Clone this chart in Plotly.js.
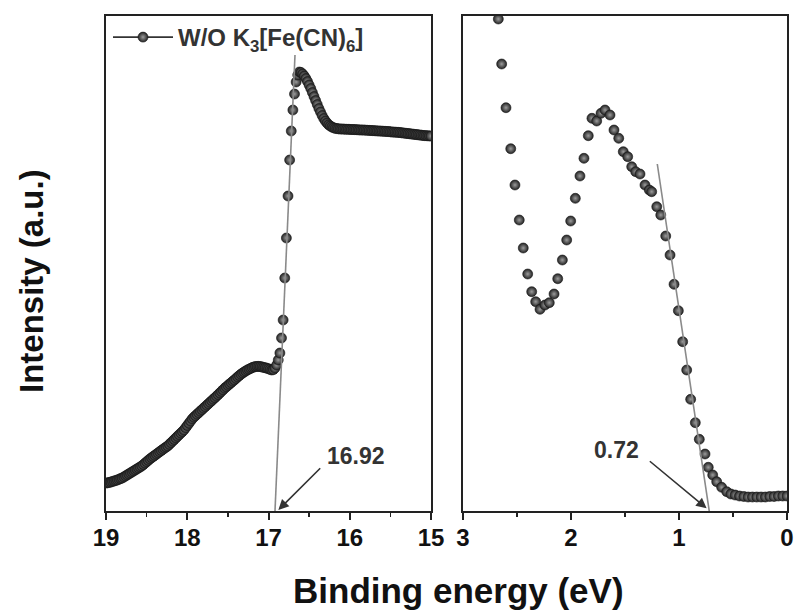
<!DOCTYPE html>
<html><head><meta charset="utf-8">
<script src="https://cdn.plot.ly/plotly-3.0.1.min.js"></script>
<style>html,body{margin:0;padding:0;background:#fff}#chart{width:795px;height:614px}</style>
</head><body><div id="chart"></div>
<script>
// Left panel: secondary-electron cutoff region (binding energy, eV)
const leftEnergy = [
19.00,18.98,18.96,18.94,18.92,18.90,18.88,18.86,18.84,18.82,18.80,18.78,18.76,18.74,18.72,18.70,18.68,18.66,18.64,18.62,
18.60,18.58,18.56,18.54,18.52,18.50,18.48,18.46,18.44,18.42,18.40,18.38,18.36,18.34,18.32,18.30,18.28,18.26,18.24,18.22,
18.20,18.18,18.16,18.14,18.12,18.10,18.08,18.06,18.04,18.02,18.00,17.98,17.96,17.94,17.92,17.90,17.88,17.86,17.84,17.82,
17.80,17.78,17.76,17.74,17.72,17.70,17.68,17.66,17.64,17.62,17.60,17.58,17.56,17.54,17.52,17.50,17.48,17.46,17.44,17.42,
17.40,17.38,17.36,17.34,17.32,17.30,17.28,17.26,17.24,17.22,17.20,17.18,17.16,17.14,17.12,17.10,17.08,17.06,17.04,17.02,
17.00,16.98,16.96,16.94,16.92,16.90,16.88,16.86,16.84,16.82,16.80,16.78,16.76,16.74,16.72,16.70,16.68,16.66,16.64,16.62,
16.60,16.58,16.56,16.54,16.52,16.50,16.48,16.46,16.44,16.42,16.40,16.38,16.36,16.34,16.32,16.30,16.28,16.26,16.24,16.22,
16.20,16.18,16.16,16.14,16.12,16.10,16.08,16.06,16.04,16.02,16.00,15.98,15.96,15.94,15.92,15.90,15.88,15.86,15.84,15.82,
15.80,15.78,15.76,15.74,15.72,15.70,15.68,15.66,15.64,15.62,15.60,15.58,15.56,15.54,15.52,15.50,15.48,15.46,15.44,15.42,
15.40,15.38,15.36,15.34,15.32,15.30,15.28,15.26,15.24,15.22,15.20,15.18,15.16,15.14,15.12,15.10,15.08,15.06,15.04,15.02,
15.00];
const leftIntensity = [
28,28.2,28.5,29,29.5,30,30.5,31,31.7,32.4,33,34,35,36,37,38,39,40,41,42,
43,44,45,46.4,47.8,49.2,50.6,52,53.2,54.4,55.6,56.8,58,59.2,60.4,61.6,62.8,63.9,65,66.6,
68.2,69.8,71.4,73,74.6,76.2,77.8,79.4,81,83.2,85.4,87.6,89.8,92,93.7,95.2,96.7,98.2,99.7,101.2,
102.7,104.2,105.7,107.2,108.7,110.2,111.7,113.2,114.7,116.3,117.9,119.5,121.1,122.7,124.1,125.5,126.9,128.3,129.7,131,
132.5,134,135.4,136.7,137.9,139,140,141,141.8,142.6,143.4,144,144.4,144.6,144.6,144.4,144,143.6,143.2,142.8,
142.2,141.6,141,141.4,143,146,151,158,173,191,233,273,315,351,380,401,417,429,436,439,
438.5,437,435,432.5,429.5,426,422.5,418.5,414.5,410.5,406.5,402.5,399,395.5,392.5,390,388,386.2,385,384,
383.2,382.7,382.4,382.2,382,382,381.9,381.8,381.7,381.7,381.6,381.5,381.4,381.4,381.3,381.2,381.1,381,381,380.9,
380.8,380.7,380.6,380.5,380.4,380.3,380.2,380.1,380,379.9,379.8,379.7,379.6,379.5,379.4,379.2,379,378.9,378.8,378.7,
378.6,378.4,378.2,378,377.8,377.6,377.4,377.2,377,376.8,376.6,376.4,376.2,376,375.8,375.6,375.4,375.3,375.2,375.1,
375];

// Right panel: valence band region (binding energy, eV)
const rightEnergy = [
2.673,2.642,2.602,2.558,2.519,2.479,2.442,2.401,2.364,2.327,2.287,2.241,2.201,2.157,2.123,2.080,2.040,2.003,1.960,1.917,
1.880,1.840,1.806,1.762,1.722,1.685,1.639,1.602,1.558,1.516,1.475,1.438,1.401,1.361,1.315,1.275,1.253,1.206,1.169,1.123,
1.083,1.046,1.006,0.966,0.929,0.892,0.849,0.812,0.759,0.729,0.688,0.651,0.605,0.558,0.52,0.48,0.44,0.40,0.36,0.32,
0.28,0.24,0.20,0.16,0.12,0.08,0.04,0.00];
const rightIntensity = [
492,447,403.3,362.3,326,291,263,237,219.3,209.3,201.7,206,208.3,217,232.3,251,271,290,312.7,335,
352.7,375.3,392.7,390,397.7,401,396,381,372.7,359.3,354.3,344.3,339.3,337,326,321,319.3,304.3,296,275,
256,226.7,200.3,169.3,141,111.7,88.3,71.7,57,43.7,36,29.3,23.7,19.3,17,16,15,14.5,14,14,
14,14,14,14.5,14.5,15,15,15];

// Linear extrapolation lines (onset)
const leftFitEnergy = [16.92, 16.674];
const leftFitIntensity = [0, 456];
const rightFitEnergy = [0.72, 1.201];
const rightFitIntensity = [0, 347];
const leftOnset = 16.92;
const rightOnset = 0.72;

const leftTicks = [19, 18, 17, 16, 15];
const rightTicks = [3, 2, 1, 0];

const legendName = 'W/O K<sub>3</sub>[Fe(CN)<sub>6</sub>]';

const FONT = 'Liberation Sans, Arial, Helvetica, sans-serif';
const ballMarker = {
  size: 10, color: '#222222',
  gradient: {type: 'radial', color: '#9c9c9c'},
  line: {color: '#151515', width: 0.6}
};

const traces = [
  {x: leftEnergy, y: leftIntensity, xaxis: 'x', yaxis: 'y', mode: 'markers',
   marker: ballMarker, showlegend: false, hoverinfo: 'skip'},
  {x: rightEnergy, y: rightIntensity, xaxis: 'x2', yaxis: 'y2', mode: 'markers',
   marker: ballMarker, showlegend: false, hoverinfo: 'skip'},
  {x: leftFitEnergy, y: leftFitIntensity, xaxis: 'x', yaxis: 'y', mode: 'lines',
   line: {color: '#8a8a8a', width: 1.6}, showlegend: false, hoverinfo: 'skip'},
  {x: rightFitEnergy, y: rightFitIntensity, xaxis: 'x2', yaxis: 'y2', mode: 'lines',
   line: {color: '#8a8a8a', width: 1.6}, showlegend: false, hoverinfo: 'skip'},
  {x: [null], y: [null], xaxis: 'x', yaxis: 'y', mode: 'lines+markers', name: legendName,
   line: {color: '#333', width: 1.8}, marker: ballMarker, showlegend: true}
];

const W = 795, H = 614;
const px = v => v / W;
const py = v => (H - v) / H;

const xCommon = {
  showline: true, linecolor: '#222', linewidth: 2, mirror: true,
  ticks: 'outside', ticklen: 7, tickwidth: 2, tickcolor: '#222',
  minor: {ticks: 'outside', ticklen: 4, tickwidth: 1.5, tickcolor: '#222', dtick: 0.5},
  showgrid: false, zeroline: false, anchor: 'y',
  ticklabelstandoff: -3,
  tickfont: {family: FONT, size: 24, weight: 700, color: '#111'}
};
const yCommon = {
  showline: true, linecolor: '#222', linewidth: 2, mirror: true,
  ticks: '', showticklabels: false, showgrid: false, zeroline: false,
  range: [0, 495]
};

const layout = {
  width: W, height: H,
  margin: {l: 0, r: 0, t: 0, b: 0},
  paper_bgcolor: '#fff', plot_bgcolor: '#fff',
  showlegend: true,
  legend: {x: px(108), y: py(15), xanchor: 'left', yanchor: 'top',
    itemwidth: 60,
    bgcolor: 'rgba(0,0,0,0)', borderwidth: 0,
    font: {family: FONT, size: 24, weight: 700, color: '#333'}},
  xaxis: Object.assign({}, xCommon, {domain: [px(106), px(431)], range: [19, 15],
    tickvals: leftTicks, ticktext: leftTicks.map(String), anchor: 'y'}),
  yaxis: Object.assign({}, yCommon, {domain: [py(511), py(16)], anchor: 'x'}),
  xaxis2: Object.assign({}, xCommon, {domain: [px(463), px(787)], range: [3, 0],
    tickvals: rightTicks, ticktext: rightTicks.map(String), anchor: 'y2'}),
  yaxis2: Object.assign({}, yCommon, {domain: [py(511), py(16)], anchor: 'x2'}),
  annotations: [
    {xref: 'x', yref: 'y', x: 16.879, y: 1, axref: 'x', ayref: 'y', ax: 16.345, ay: 44.3,
     text: '', showarrow: true, arrowhead: 2, arrowsize: 1.3, arrowwidth: 1.6, arrowcolor: '#333'},
    {xref: 'x', yref: 'y', x: 15.923, y: 55, text: String(leftOnset), showarrow: false,
     font: {family: FONT, size: 23, weight: 700, color: '#333'}},
    {xref: 'x2', yref: 'y2', x: 0.744, y: 2.7, axref: 'x2', ayref: 'y2', ax: 1.284, ay: 51,
     text: '', showarrow: true, arrowhead: 2, arrowsize: 1.3, arrowwidth: 1.6, arrowcolor: '#333'},
    {xref: 'x2', yref: 'y2', x: 1.583, y: 61, text: String(rightOnset), showarrow: false,
     font: {family: FONT, size: 23, weight: 700, color: '#333'}},
    {xref: 'paper', yref: 'paper', x: px(458), y: py(590), xanchor: 'center', yanchor: 'middle',
     text: 'Binding energy (eV)', showarrow: false,
     font: {family: FONT, size: 35, weight: 700, color: '#111'}},
    {xref: 'paper', yref: 'paper', x: px(31), y: py(281), xanchor: 'center', yanchor: 'middle',
     text: 'Intensity (a.u.)', textangle: -90, showarrow: false,
     font: {family: FONT, size: 33, weight: 700, color: '#111'}}
  ]
};

Plotly.newPlot('chart', traces, layout, {staticPlot: true, displayModeBar: false});
</script>
</body></html>
